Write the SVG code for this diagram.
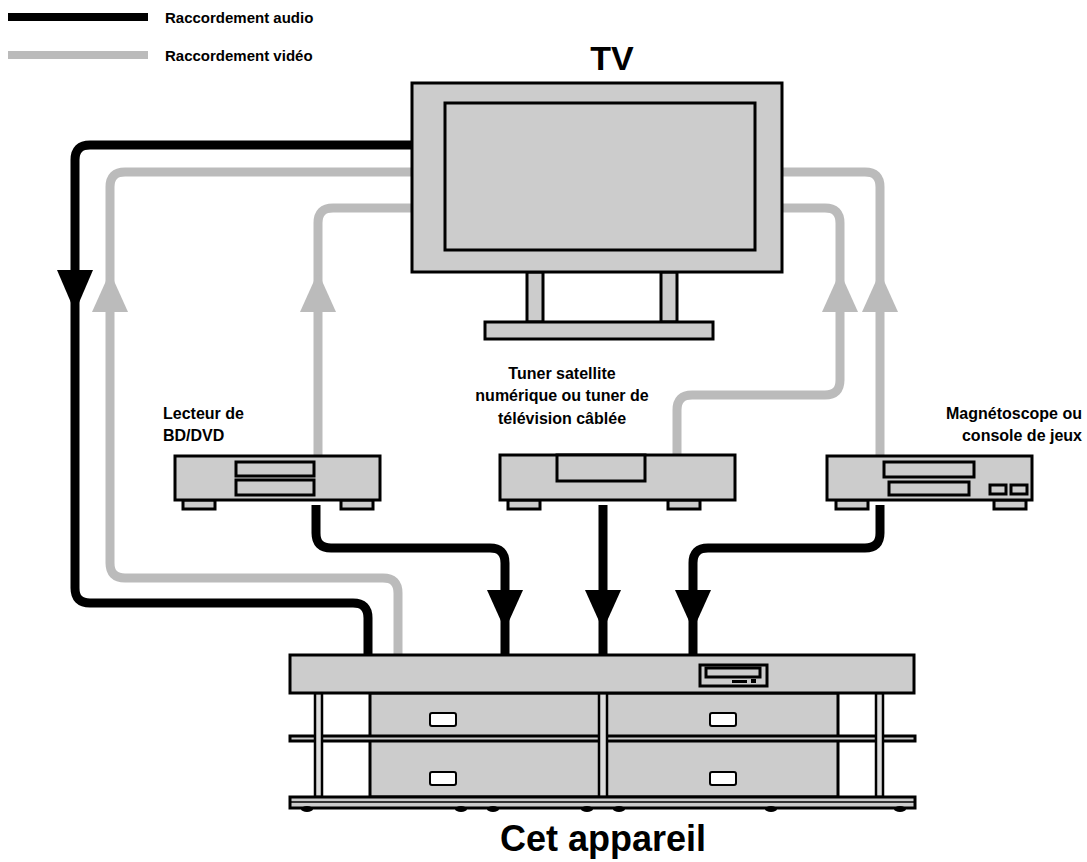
<svg xmlns="http://www.w3.org/2000/svg" width="1087" height="862" viewBox="0 0 1087 862">
<defs>
<style>
.t{font-family:"Liberation Sans",Arial,sans-serif;font-weight:bold;fill:#000}
.b{fill:none;stroke:#000;stroke-width:9;stroke-linejoin:round}
.g{fill:none;stroke:#bbb;stroke-width:9;stroke-linejoin:round}
.box{fill:#ccc;stroke:#000;stroke-width:3}
.w{fill:#fff;stroke:#000;stroke-width:2}
.post{fill:#ddd;stroke:#000;stroke-width:2.5}
</style>
</defs>
<rect width="1087" height="862" fill="#fff"/>
<g id="legend">
<rect x="8" y="13" width="140" height="8" fill="#000"/>
<rect x="8" y="51" width="140" height="8" fill="#bbb"/>
<text class="t" x="165" y="23" font-size="15">Raccordement audio</text>
<text class="t" x="165" y="61" font-size="15">Raccordement vidéo</text>
</g>
<g id="connectors">
<path class="b" d="M412,145 H90 Q75,145 75,160 V588 Q75,603 90,603 H353 Q368,603 368,618 V655"/>
<path class="g" d="M412,172 H125 Q110,172 110,187 V563 Q110,578 125,578 H383 Q398,578 398,593 V655"/>
<path class="g" d="M412,208 H333 Q318,208 318,223 V456"/>
<path class="g" d="M782,172 H865 Q880,172 880,187 V456"/>
<path class="g" d="M782,208 H825 Q840,208 840,223 V380 Q840,395 825,395 H692 Q677,395 677,410 V455"/>
<path class="b" d="M316,505 V533 Q316,548 331,548 H490 Q505,548 505,563 V655"/>
<path class="b" d="M603,505 V655"/>
<path class="b" d="M880,505 V533 Q880,548 865,548 H708 Q693,548 693,563 V655"/>
<polygon points="57,270 93,270 75,312" fill="#000"/>
<polygon points="92,312 128,312 110,272" fill="#bbb"/>
<polygon points="300,312 336,312 318,272" fill="#bbb"/>
<polygon points="822,312 858,312 840,272" fill="#bbb"/>
<polygon points="862,312 898,312 880,272" fill="#bbb"/>
<polygon points="487,590 523,590 505,630" fill="#000"/>
<polygon points="585,590 621,590 603,630" fill="#000"/>
<polygon points="675,590 711,590 693,630" fill="#000"/>
</g>
<g id="tv">
<text class="t" x="612" y="70" font-size="34" text-anchor="middle">TV</text>
<rect class="box" x="527" y="272" width="16" height="50"/>
<rect class="box" x="661" y="272" width="16" height="50"/>
<rect class="box" x="485" y="322" width="228" height="17"/>
<rect class="box" x="412" y="83" width="370" height="189"/>
<rect class="box" x="445" y="103" width="310" height="147"/>
</g>
<g id="bd">
<text class="t" x="163" y="419" font-size="16">Lecteur de</text>
<text class="t" x="163" y="441" font-size="16">BD/DVD</text>
<rect class="box" x="183" y="500" width="32" height="9"/>
<rect class="box" x="341" y="500" width="32" height="9"/>
<rect class="box" x="175" y="456" width="205" height="44"/>
<rect class="box" x="236" y="462" width="78" height="14"/>
<rect class="box" x="236" y="480" width="78" height="15"/>
</g>
<g id="tuner">
<text class="t" x="562" y="379" font-size="16" text-anchor="middle">Tuner satellite</text>
<text class="t" x="562" y="401" font-size="16" text-anchor="middle">numérique ou tuner de</text>
<text class="t" x="562" y="424" font-size="16" text-anchor="middle">télévision câblée</text>
<rect class="box" x="508" y="500" width="32" height="9"/>
<rect class="box" x="668" y="500" width="32" height="9"/>
<rect class="box" x="500" y="455" width="235" height="45"/>
<rect class="box" x="557" y="455" width="88" height="26"/>
</g>
<g id="vcr">
<text class="t" x="1082" y="419" font-size="16" text-anchor="end">Magnétoscope ou</text>
<text class="t" x="1082" y="441" font-size="16" text-anchor="end">console de jeux</text>
<rect class="box" x="836" y="500" width="32" height="9"/>
<rect class="box" x="994" y="500" width="32" height="9"/>
<rect class="box" x="827" y="456" width="205" height="44"/>
<rect class="box" x="884" y="462" width="90" height="15"/>
<rect class="box" x="889" y="482" width="80" height="13"/>
<rect class="box" x="990" y="485" width="16" height="9"/>
<rect class="box" x="1011" y="485" width="16" height="9"/>
</g>
<g id="unit">
<rect class="box" x="370" y="693" width="233" height="104"/>
<rect class="box" x="605" y="693" width="233" height="104"/>
<rect class="w" x="430" y="713" width="26" height="13" rx="2"/>
<rect class="w" x="710" y="713" width="26" height="13" rx="2"/>
<rect class="w" x="430" y="772" width="26" height="13" rx="2"/>
<rect class="w" x="710" y="772" width="26" height="13" rx="2"/>
<rect class="box" x="290" y="736" width="625" height="5" stroke-width="2"/>
<rect class="post" x="315" y="693" width="7" height="104"/>
<rect class="post" x="599" y="693" width="8" height="104"/>
<rect class="post" x="876" y="693" width="7" height="104"/>
<rect class="box" x="290" y="797" width="625" height="11" stroke-width="2"/>
<line x1="290" y1="802" x2="915" y2="802" stroke="#000" stroke-width="1.5"/>
<g fill="#000">
<ellipse cx="307" cy="809" rx="6" ry="3"/><ellipse cx="461" cy="809" rx="6" ry="3"/><ellipse cx="493" cy="809" rx="6" ry="3"/>
<ellipse cx="587" cy="809" rx="6" ry="3"/><ellipse cx="619" cy="809" rx="6" ry="3"/><ellipse cx="771" cy="809" rx="6" ry="3"/>
<ellipse cx="900" cy="809" rx="6" ry="3"/></g>
<rect class="box" x="290" y="655" width="624" height="38"/>
<rect class="box" x="700" y="665" width="67" height="21" stroke-width="2"/>
<rect class="box" x="706" y="668" width="54" height="9" stroke-width="1.5"/>
<rect x="732" y="680" width="15" height="3" fill="#000"/>
<rect x="751" y="679" width="5" height="4" fill="#000"/>
<text class="t" x="603" y="851" font-size="36" text-anchor="middle">Cet appareil</text>
</g>
</svg>
